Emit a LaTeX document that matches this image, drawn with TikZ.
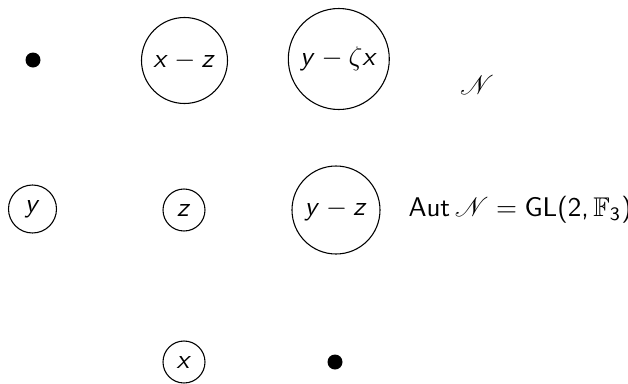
\documentclass[tikz,border=0pt]{standalone}
\usepackage{amssymb}
\usepackage{mathrsfs}
\DeclareSymbolFont{sfletters}{OT1}{cmss}{m}{sl}
\DeclareSymbolFont{sfops}{OT1}{cmss}{m}{n}
\DeclareMathSymbol{x}{\mathalpha}{sfletters}{`x}
\DeclareMathSymbol{y}{\mathalpha}{sfletters}{`y}
\DeclareMathSymbol{z}{\mathalpha}{sfletters}{`z}
\DeclareMathSymbol{2}{\mathalpha}{sfops}{`2}
\DeclareMathSymbol{3}{\mathalpha}{sfops}{`3}
\DeclareMathSymbol{(}{\mathopen}{sfops}{`(}
\DeclareMathSymbol{)}{\mathclose}{sfops}{`)}
\DeclareMathSymbol{,}{\mathpunct}{sfops}{`,}
\begin{document}
\begin{tikzpicture}[x=0.37pt,y=-0.37pt,
  ring/.style={draw,circle,inner sep=0pt,line width=0.4pt},
  blob/.style={circle,fill=black,inner sep=0pt,minimum size=15*0.37pt},
  lbl/.style={inner sep=0pt}]
\useasboundingbox (0,0) rectangle (628,383);
\node[blob] (d1) at (33,60) {};
\node[ring,minimum size=86*0.37pt] (xz) at (184.5,60.5) {$x-z$};
\node[ring,minimum size=101*0.37pt] (yzx) at (338.8,59) {$y-\zeta x$};
\node[lbl] (N) at (477,85) {$\mathscr{N}$};
\node[ring,minimum size=48*0.37pt] (y) at (32.5,209) {$y$};
\node[ring,minimum size=42*0.37pt] (z) at (184,210) {$z$};
\node[ring,minimum size=88*0.37pt] (yz) at (336,210) {$y-z$};
\node[lbl,anchor=west] (aut) at (408,210) {$\mathsf{Aut}\,\mathscr{N}=\mathsf{GL}(2,\mathbb{F}_3)$};
\node[ring,minimum size=42*0.37pt] (x) at (184,362) {$x$};
\node[blob] (d2) at (335,362) {};
\end{tikzpicture}
\end{document}
